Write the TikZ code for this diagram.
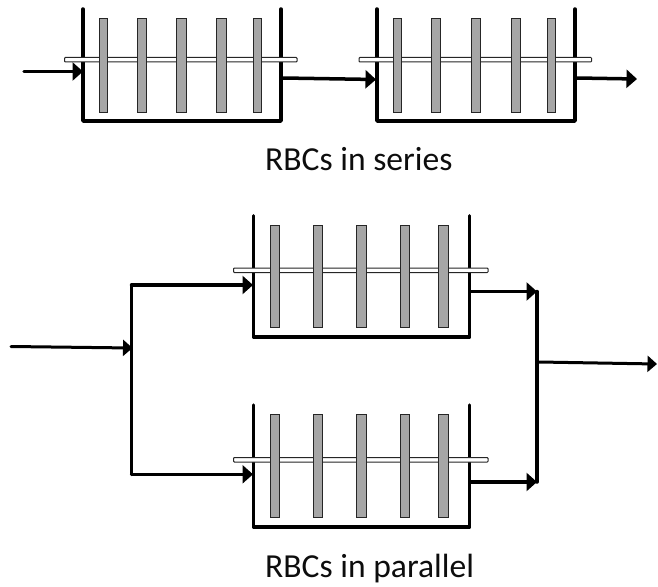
\documentclass[tikz,border=0pt]{standalone}
\usepackage{fontspec}
\setmainfont{Carlito}
\usetikzlibrary{arrows.meta}
\tikzset{
  tankwall/.style={line width=3.5pt,draw=black,line join=round,line cap=round},
  shaftbar/.style={draw=black!85,line width=1pt,fill=white,rounded corners=0.8pt},
  discbar/.style={draw=black!85,line width=0.9pt,fill=black!35},
  flow/.style={line width=3.5pt,draw=black,line cap=round,-{Triangle[length=10.5pt,width=18pt]}},
  flowsmall/.style={line width=3pt,draw=black,line cap=round,-{Triangle[length=9.5pt,width=16pt]}},
  pipe/.style={line width=3.5pt,draw=black,line cap=round,line join=miter},
  caption/.style={font=\fontsize{33.6}{38}\selectfont,inner sep=0pt,anchor=base west,text=black!95}
}
% #1 left, #2 right, #3 top, #4 bottom, #5 shaft left, #6 shaft right, #7 shaft top
\newcommand{\tankshape}[7]{%
  \draw[tankwall] (#1,#3) -- (#1,#4) -- (#2,#4) -- (#2,#3);
  \draw[shaftbar] (#5,#7) rectangle (#6,#7+4.5);
}
\newcommand{\discat}[4]{\draw[discbar] (#1-#2,#3) rectangle (#1+#2,#4);}
\begin{document}
\begin{tikzpicture}[x=1pt,y=-1pt]
\useasboundingbox (0,0) rectangle (658,586);
% series tanks
\tankshape{83}{281}{9}{121}{64.5}{297}{57.5}
\discat{103}{4}{18.5}{112.5}\discat{142}{4.8}{18.5}{112.5}\discat{181.5}{4.8}{18.5}{112.5}\discat{221.5}{4.8}{18.5}{112.5}\discat{257}{4}{18.5}{112.5}
\tankshape{377}{575}{9}{121}{359}{591.5}{57.5}
\discat{397}{4}{18.5}{112.5}\discat{436}{4.8}{18.5}{112.5}\discat{476}{4.8}{18.5}{112.5}\discat{516}{4.8}{18.5}{112.5}\discat{551.7}{4}{18.5}{112.5}
% parallel tanks
\tankshape{253.5}{469.7}{215.75}{337}{233.5}{488}{268}
\discat{275}{4.8}{225}{327.5}\discat{318}{4.8}{225}{327.5}\discat{361.7}{4.8}{225}{327.5}\discat{405}{4.8}{225}{327.5}\discat{443.3}{4.8}{225}{327.5}
\tankshape{253.5}{469.7}{405}{527}{233.5}{488}{457.5}
\discat{275}{4.8}{414.5}{517}\discat{318}{4.8}{414.5}{517}\discat{361.7}{4.8}{414.5}{517}\discat{405}{4.8}{414.5}{517}\discat{443.3}{4.8}{414.5}{517}
% connection points
\coordinate (sIn) at (24,71.5);
\coordinate (sA) at (83,71.5);
\coordinate (sOutA) at (283,78);
\coordinate (sB) at (376,79.5);
\coordinate (sOutB) at (577,78);
\coordinate (sEnd) at (637,79);
\coordinate (pIn) at (11,346.5);
\coordinate (pSplit) at (132.5,348);
\coordinate (pUp) at (131.5,285);
\coordinate (pDown) at (131.5,474.3);
\coordinate (pA) at (253,285);
\coordinate (pB) at (253,474.3);
\coordinate (pOutA) at (471,291.5);
\coordinate (pOutB) at (471,482);
\coordinate (pMergeA) at (537,291.5);
\coordinate (pMergeB) at (537,482);
\coordinate (pOutC) at (539,362);
\coordinate (pEnd) at (657,364);
% connectors
\draw[flow] (sIn) -- (sA);
\draw[flow] (sOutA) -- (sB);
\draw[flow] (sOutB) -- (sEnd);
\draw[flowsmall] (pIn) -- (pSplit);
\draw[pipe] (pUp) -- (pDown);
\draw[flow] (pUp) -- (pA);
\draw[flow] (pDown) -- (pB);
\draw[flow] (pOutA) -- (pMergeA);
\draw[flow] (pOutB) -- (pMergeB);
\draw[pipe] (pMergeA) -- (pMergeB);
\draw[flowsmall] (pOutC) -- (pEnd);
% captions
\node[caption] (capS) at (265,170) {RBCs in series};
\node[caption] (capP) at (265,577.5) {RBCs in parallel};
\end{tikzpicture}
\end{document}
